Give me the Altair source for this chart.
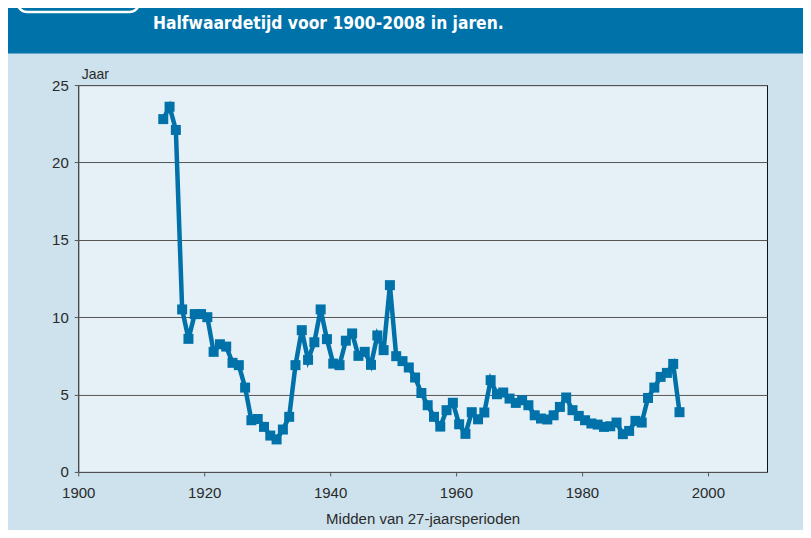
import altair as alt
import pandas as pd

years = [1913.5, 1914.5, 1915.5, 1916.5, 1917.5, 1918.5, 1919.5, 1920.5, 1921.5, 1922.5,
         1923.5, 1924.5, 1925.5, 1926.5, 1927.5, 1928.5, 1929.5, 1930.5, 1931.5, 1932.5,
         1933.5, 1934.5, 1935.5, 1936.5, 1937.5, 1938.5, 1939.5, 1940.5, 1941.5, 1942.5,
         1943.5, 1944.5, 1945.5, 1946.5, 1947.5, 1948.5, 1949.5, 1950.5, 1951.5, 1952.5,
         1953.5, 1954.5, 1955.5, 1956.5, 1957.5, 1958.5, 1959.5, 1960.5, 1961.5, 1962.5,
         1963.5, 1964.5, 1965.5, 1966.5, 1967.5, 1968.5, 1969.5, 1970.5, 1971.5, 1972.5,
         1973.5, 1974.5, 1975.5, 1976.5, 1977.5, 1978.5, 1979.5, 1980.5, 1981.5, 1982.5,
         1983.5, 1984.5, 1985.5, 1986.5, 1987.5, 1988.5, 1989.5, 1990.5, 1991.5, 1992.5,
         1993.5, 1994.5, 1995.5]

halfwaardetijd = [22.8, 23.6, 22.1, 10.5, 8.6, 10.2, 10.2, 10.0, 7.76, 8.25,
                  8.1, 7.05, 6.9, 5.45, 3.34, 3.42, 2.91, 2.35, 2.1, 2.74,
                  3.56, 6.9, 9.16, 7.24, 8.38, 10.5, 8.58, 7.0, 6.9, 8.48,
                  8.95, 7.5, 7.76, 6.92, 8.82, 7.87, 12.07, 7.48, 7.16, 6.75,
                  6.1, 5.1, 4.31, 3.56, 2.93, 3.99, 4.47, 3.08, 2.46, 3.86,
                  3.4, 3.84, 5.93, 5.02, 5.13, 4.74, 4.46, 4.63, 4.31, 3.66,
                  3.45, 3.39, 3.66, 4.2, 4.81, 3.99, 3.62, 3.34, 3.13, 3.06,
                  2.91, 2.95, 3.19, 2.44, 2.65, 3.3, 3.19, 4.78, 5.45, 6.14,
                  6.4, 6.98, 3.86]

x_ticks = [1900, 1920, 1940, 1960, 1980, 2000]
y_ticks = [0, 5, 10, 15, 20, 25]

title_text = "Halfwaardetijd voor 1900-2008 in jaren."
y_unit = "Jaar"
x_title = "Midden van 27-jaarsperioden"

df = pd.DataFrame({"jaar": years, "waarde": halfwaardetijd})

BLUE = "#0071a9"
HEADER = "#0072aa"
BG = "#cde2ed"
PLOTBG = "#e6f1f7"
FONT = "Liberation Sans"

one = alt.Data(values=[{"a": 1}])

x_enc = alt.X("jaar:Q",
              scale=alt.Scale(domain=[1900, 2009.4], nice=False, zero=False),
              axis=alt.Axis(values=x_ticks, format="d", title=x_title,
                            grid=False, domain=False, tickSize=4, labelFlush=False,
                            tickColor="#555", labelPadding=10,
                            labelFontSize=15, labelFont=FONT, labelColor="#2a2a2a",
                            titleFontSize=15, titleFont=FONT, titleColor="#2a2a2a",
                            titleFontWeight="normal", titlePadding=11))
y_enc = alt.Y("waarde:Q",
              scale=alt.Scale(domain=[0, 25], nice=False),
              axis=alt.Axis(values=y_ticks, title=None, grid=True,
                            gridColor="#555", gridWidth=1, domain=False,
                            tickSize=4, tickColor="#555", labelPadding=6,
                            labelFontSize=15, labelFont=FONT, labelColor="#2a2a2a"))

line = alt.Chart(df).mark_line(color=BLUE, strokeWidth=4.5, strokeJoin="miter").encode(x=x_enc, y=y_enc)
points = alt.Chart(df).mark_square(color=BLUE, size=100, opacity=1).encode(x="jaar:Q", y="waarde:Q")

header = alt.Chart(one).mark_rect(color=HEADER).encode(
    x=alt.value(-71), x2=alt.value(740), y=alt.value(-90), y2=alt.value(-31.7))
box = alt.Chart(one).mark_rect(fill=HEADER, stroke="white", strokeWidth=2.5,
                               cornerRadius=10).encode(
    x=alt.value(-61), x2=alt.value(61), y=alt.value(-110), y2=alt.value(-73))
title = alt.Chart(one).mark_text(text=title_text, color="white",
                                 font="DejaVu Sans Condensed, Roboto, Liberation Sans, sans-serif",
                                 fontWeight="bold", fontSize=17.3, align="left",
                                 baseline="alphabetic").encode(
    x=alt.value(74.7), y=alt.value(-55.7))
unit = alt.Chart(one).mark_text(text=y_unit, color="#2a2a2a", font=FONT, fontSize=14,
                                align="left", baseline="alphabetic").encode(
    x=alt.value(3.4), y=alt.value(-6))

chart = alt.layer(header, box, title, unit, line, points).properties(
    width=689, height=387,
    autosize=alt.AutoSizeParams(type="none"),
    padding={"left": 70.3, "top": 77, "right": 36, "bottom": 58},
    background=BG,
).configure_view(fill=PLOTBG, stroke="#111", strokeWidth=1)

chart.save("out.html", embed_options={"renderer": "svg", "actions": False})
